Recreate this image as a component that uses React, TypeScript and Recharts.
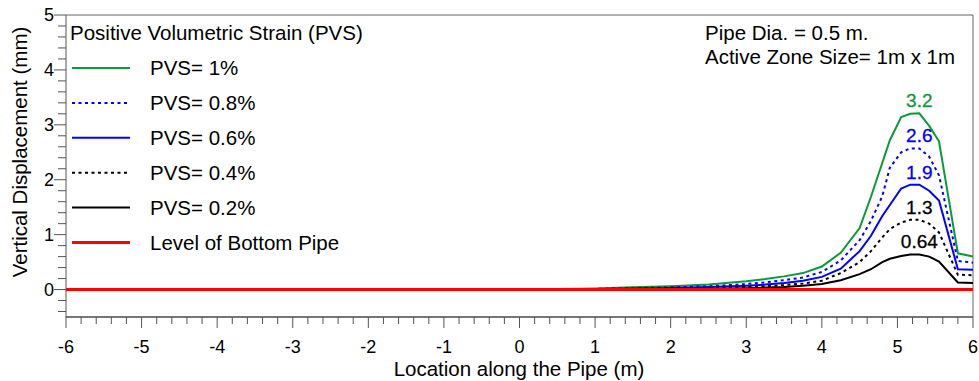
import { Legend, Line, LineChart, ReferenceLine, XAxis, YAxis } from 'recharts'

// location along the pipe (m)
const location = [-6, 0, 0.5, 1, 1.5, 2, 2.5, 3, 3.25, 3.5, 3.75, 4, 4.25, 4.5, 4.65, 4.8, 4.9, 5.05, 5.17, 5.29, 5.42, 5.55, 5.8, 6]

// vertical displacement (mm) per PVS
const pvs10 = [0, 0, 0.01, 0.02, 0.04, 0.06, 0.09, 0.15, 0.19, 0.24, 0.3, 0.42, 0.67, 1.12, 1.69, 2.31, 2.72, 3.14, 3.2, 3.21, 2.98, 2.7, 0.66, 0.6]
const pvs08 = [0, 0, 0.005, 0.012, 0.025, 0.04, 0.06, 0.1, 0.13, 0.17, 0.22, 0.32, 0.53, 0.9, 1.25, 1.7, 2.22, 2.5, 2.57, 2.57, 2.42, 2.08, 0.52, 0.49]
const pvs06 = [0, 0, 0.004, 0.01, 0.018, 0.03, 0.045, 0.07, 0.09, 0.12, 0.16, 0.23, 0.38, 0.7, 0.98, 1.34, 1.54, 1.84, 1.91, 1.91, 1.8, 1.62, 0.37, 0.36]
const pvs04 = [0, 0, 0.002, 0.006, 0.01, 0.018, 0.03, 0.05, 0.06, 0.08, 0.11, 0.16, 0.3, 0.5, 0.7, 0.95, 1.1, 1.22, 1.27, 1.27, 1.2, 1.04, 0.27, 0.26]
const pvs02 = [0, 0, 0.001, 0.003, 0.006, 0.01, 0.015, 0.025, 0.035, 0.045, 0.07, 0.1, 0.17, 0.28, 0.37, 0.5, 0.56, 0.61, 0.64, 0.64, 0.6, 0.51, 0.13, 0.12]
const bottomPipe = location.map(() => 0)

const peakLabels = ['3.2', '2.6', '1.9', '1.3', '0.64']
const PEAK_INDEX = 19

const xMajor = [-6, -5, -4, -3, -2, -1, 0, 1, 2, 3, 4, 5, 6]
const yMajor = [0, 1, 2, 3, 4, 5]

const subdivide = (from: number, to: number, step: number) => {
  const out: number[] = []
  for (let v = from; v <= to + 1e-9; v += step) out.push(Math.round(v * 10) / 10)
  return out
}
const xTicks = subdivide(-6, 6, 0.2)
const yTicks = subdivide(-0.4, 5, 0.2)

const data = location.map((x, i) => ({
  x,
  pvs10: pvs10[i],
  pvs08: pvs08[i],
  pvs06: pvs06[i],
  pvs04: pvs04[i],
  pvs02: pvs02[i],
  bottom: bottomPipe[i],
}))

const series = [
  { key: 'pvs10', name: 'PVS= 1%', color: '#0a9a3a', dash: undefined },
  { key: 'pvs08', name: 'PVS= 0.8%', color: '#0000ff', dash: '3 3.5' },
  { key: 'pvs06', name: 'PVS= 0.6%', color: '#0000ff', dash: undefined },
  { key: 'pvs04', name: 'PVS= 0.4%', color: '#000000', dash: '3 3.5' },
  { key: 'pvs02', name: 'PVS= 0.2%', color: '#000000', dash: undefined },
]

const FONT = '"Liberation Sans", Arial, sans-serif'
const AXIS = '#555'
const TEXT = 20.5

const isMajor = (v: number) => Math.abs(v - Math.round(v)) < 1e-6

const XTick = ({ x, y, payload }: any) => {
  const v = payload.value
  const major = isMajor(v)
  return (
    <g>
      <line x1={x} x2={x} y1={y} y2={y + (major ? 11 : 7)} stroke={AXIS} />
      {major && xMajor.includes(Math.round(v)) && (
        <text x={x} y={y + 36} textAnchor={'middle'} fontSize={18} fontFamily={FONT} fill={'#000'}>
          {Math.round(v)}
        </text>
      )}
    </g>
  )
}

const YTick = ({ x, y, payload }: any) => {
  const v = payload.value
  const major = isMajor(v)
  return (
    <g>
      <line x1={x - (major ? 12 : 8)} x2={x} y1={y} y2={y} stroke={AXIS} />
      {major && yMajor.includes(Math.round(v)) && (
        <text x={x - 12} y={y + 6} textAnchor={'end'} fontSize={18} fontFamily={FONT} fill={'#000'}>
          {Math.round(v)}
        </text>
      )}
    </g>
  )
}

const peakLabel = (text: string, color: string) => (props: any) => {
  if (props.index !== PEAK_INDEX) return <g />
  return (
    <text
      x={props.x}
      y={props.y - 6}
      textAnchor={'middle'}
      fontSize={19}
      fontFamily={FONT}
      fill={color}
      stroke={color}
      strokeWidth={0.3}
    >
      {text}
    </text>
  )
}

const LegendBox = () => {
  const rows = [...series, { key: 'bottom', name: 'Level of Bottom Pipe', color: '#ff0000', dash: undefined }]
  return (
    <svg width={340} height={260} style={{ display: 'block' }}>
      <text x={4} y={25} fontSize={TEXT} fontFamily={FONT} fill={'#000'}>
        Positive Volumetric Strain (PVS)
      </text>
      {rows.map((r, i) => {
        const cy = 53 + i * 34.9
        return (
          <g key={r.key}>
            <line
              x1={6}
              x2={64}
              y1={cy}
              y2={cy}
              stroke={r.color}
              strokeWidth={r.key === 'bottom' ? 3 : 2}
              strokeDasharray={r.dash}
            />
            <text x={84} y={cy + 7} fontSize={TEXT} fontFamily={FONT} fill={'#000'}>
              {r.name}
            </text>
          </g>
        )
      })}
    </svg>
  )
}

export default function App() {
  return (
    <div style={{ position: 'absolute', left: 0, top: 0, width: 979, height: 381, background: '#fff' }}>
      <LineChart width={979} height={381} data={data} margin={{ top: 15, right: 6, bottom: 0, left: 0 }}>
        <XAxis
          dataKey={'x'}
          type={'number'}
          domain={[-6, 6]}
          ticks={xTicks}
          interval={0}
          tick={<XTick />}
          tickSize={0}
          tickMargin={0}
          tickLine={false}
          height={64}
          axisLine={{ stroke: '#777', strokeWidth: 2 }}
          allowDataOverflow
        />
        <YAxis
          type={'number'}
          domain={[-0.5, 5]}
          ticks={yTicks}
          interval={0}
          tick={<YTick />}
          tickSize={0}
          tickMargin={0}
          tickLine={false}
          width={66}
          axisLine={{ stroke: AXIS }}
          allowDataOverflow
        />
        <ReferenceLine y={5} stroke={'#666'} />
        <ReferenceLine x={6} stroke={'#666'} />
        {series.map((s, i) => (
          <Line
            key={s.key}
            dataKey={s.key}
            name={s.name}
            type={'linear'}
            stroke={s.color}
            strokeWidth={2}
            strokeDasharray={s.dash}
            dot={false}
            activeDot={false}
            isAnimationActive={false}
            label={peakLabel(peakLabels[i], s.color)}
          />
        ))}
        <Line
          dataKey={'bottom'}
          name={'Level of Bottom Pipe'}
          type={'linear'}
          stroke={'#ff0000'}
          strokeWidth={3}
          dot={false}
          activeDot={false}
          isAnimationActive={false}
        />
        <Legend
          layout={'horizontal'}
          align={'center'}
          verticalAlign={'middle'}
          content={<LegendBox />}
          wrapperStyle={{ position: 'absolute', top: 15, left: 66, width: 340, height: 260 }}
        />
      </LineChart>
      <div
        style={{
          position: 'absolute',
          left: 705,
          top: 21,
          fontFamily: FONT,
          fontSize: TEXT,
          lineHeight: '24px',
          color: '#000',
          whiteSpace: 'nowrap',
        }}
      >
        <div>Pipe Dia. = 0.5 m.</div>
        <div>Active Zone Size= 1m x 1m</div>
      </div>
      <div
        style={{
          position: 'absolute',
          left: 0,
          top: 357,
          width: 1038,
          textAlign: 'center',
          fontFamily: FONT,
          fontSize: TEXT,
          lineHeight: '24px',
          color: '#000',
        }}
      >
        Location along the Pipe (m)
      </div>
      <div
        style={{
          position: 'absolute',
          left: 20,
          top: 152,
          transform: 'translate(-50%, -50%) rotate(-90deg)',
          fontFamily: FONT,
          fontSize: TEXT,
          lineHeight: '24px',
          color: '#000',
          whiteSpace: 'nowrap',
        }}
      >
        Vertical Displacement (mm)
      </div>
    </div>
  )
}
